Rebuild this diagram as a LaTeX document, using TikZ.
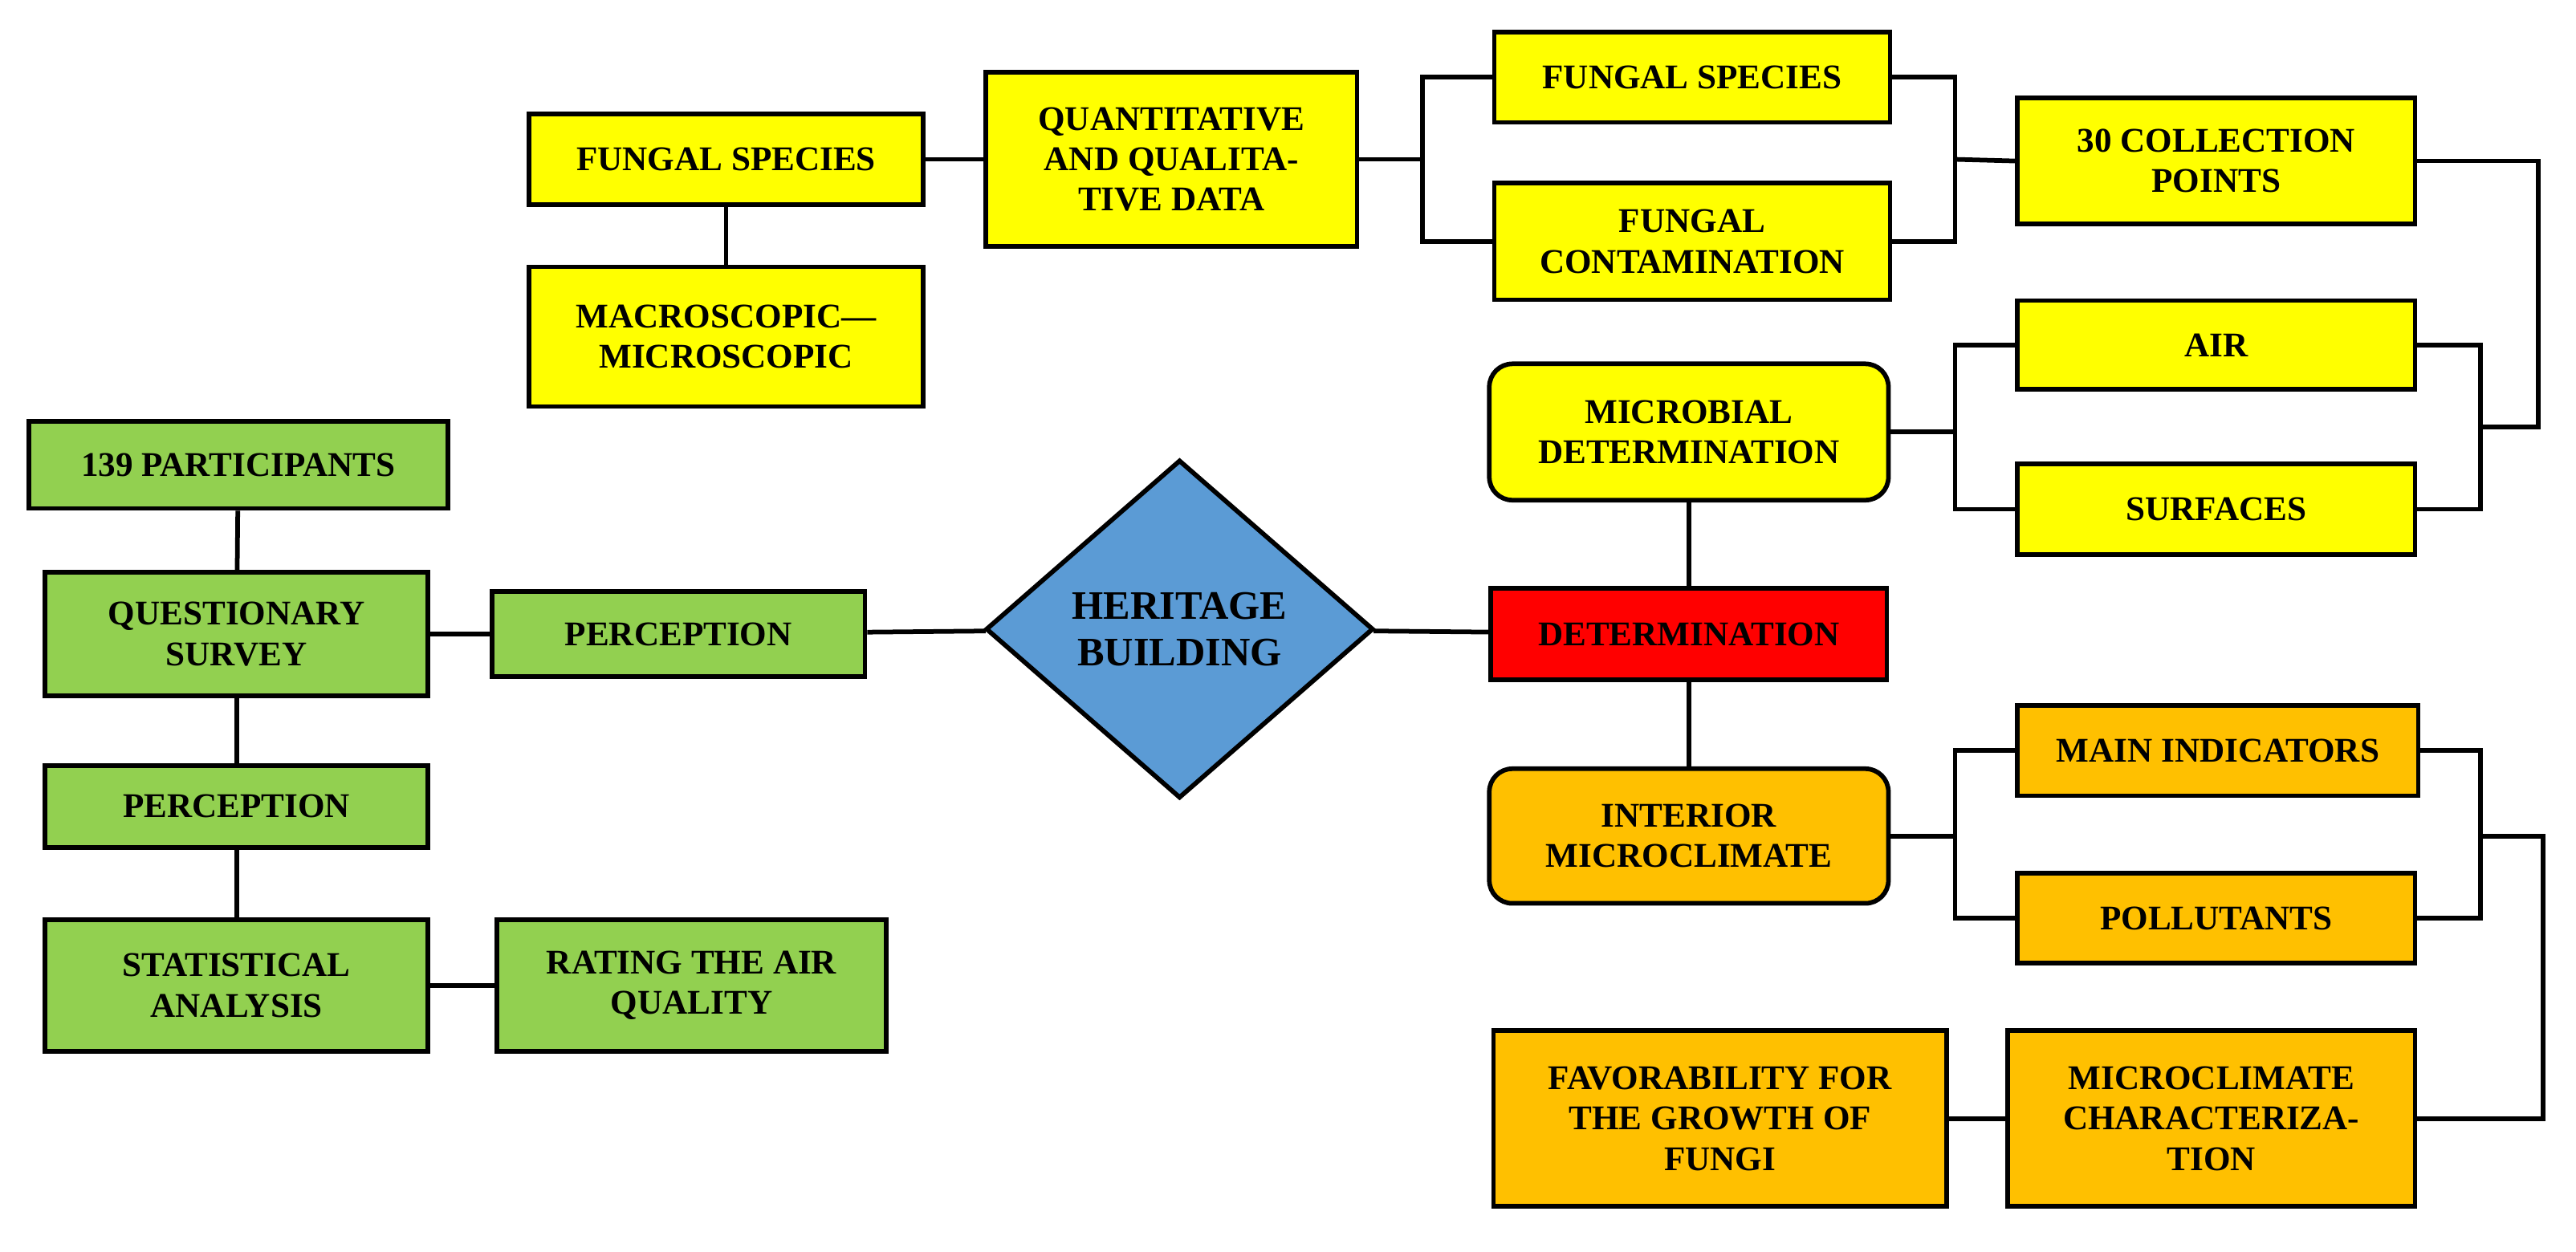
\documentclass[tikz,border=0pt]{standalone}
\usepackage{fontspec}
\setmainfont{Liberation Serif}
\usetikzlibrary{shapes.geometric}
\definecolor{boxyellow}{HTML}{FFFF00}
\definecolor{boxgreen}{HTML}{92D050}
\definecolor{boxorange}{HTML}{FFC000}
\definecolor{boxred}{HTML}{FF0000}
\definecolor{boxblue}{HTML}{5B9BD5}
\begin{document}
\begin{tikzpicture}[x=0.02cm,y=-0.02cm,
    box/.style={draw, line width=1.6pt, font=\fontsize{12}{14}\selectfont\bfseries,
      align=center, inner sep=1pt},
    yel/.style={box, fill=boxyellow},
    grn/.style={box, fill=boxgreen},
    org/.style={box, fill=boxorange},
    link/.style={line width=1.6pt}]
    \useasboundingbox (0,0) rectangle (1568,762);

    % upper branch
    \path (442,97) node [yel,minimum width=4.8cm,minimum height=1.1cm] (fsl) {FUNGAL SPECIES};
    \path (442,205) node [yel,minimum width=4.8cm,minimum height=1.7cm] (macro) {MACROSCOPIC---\\MICROSCOPIC};
    \path (713,97) node [yel,minimum width=4.52cm,minimum height=2.12cm] (quant) {QUANTITATIVE\\AND QUALITA-\\TIVE DATA};
    \path (1030,47) node [yel,minimum width=4.82cm,minimum height=1.1cm] (fsr) {FUNGAL SPECIES};
    \path (1030,147) node [yel,minimum width=4.82cm,minimum height=1.42cm] (fcont) {FUNGAL\\CONTAMINATION};
    \path (1349,98) node [yel,minimum width=4.84cm,minimum height=1.54cm] (coll) {30 COLLECTION\\POINTS};
    \path (1028,263) node [yel,rounded corners=8pt,minimum width=4.86cm,minimum height=1.66cm] (microb) {MICROBIAL\\DETERMINATION};
    \path (1349,210) node [yel,minimum width=4.84cm,minimum height=1.08cm] (air) {AIR};
    \path (1349,310) node [yel,minimum width=4.84cm,minimum height=1.1cm] (surf) {SURFACES};

    % centre
    \path (718,383) node [draw,line width=1.6pt,diamond,fill=boxblue,inner sep=0pt,
      minimum width=4.72cm,minimum height=4.12cm,align=center,
      font=\fontsize{14}{16}\selectfont\bfseries] (herit) {HERITAGE\\BUILDING};
    \path (1028,386) node [box,fill=boxred,minimum width=4.82cm,minimum height=1.12cm] (det) {DETERMINATION};

    % lower branch
    \path (1028,509) node [org,rounded corners=8pt,minimum width=4.86cm,minimum height=1.64cm] (inter) {INTERIOR\\MICROCLIMATE};
    \path (1350,457) node [org,minimum width=4.88cm,minimum height=1.1cm] (mainind) {MAIN INDICATORS};
    \path (1349,559) node [org,minimum width=4.84cm,minimum height=1.1cm] (poll) {POLLUTANTS};
    \path (1346,681) node [org,minimum width=4.96cm,minimum height=2.14cm] (mchar) {MICROCLIMATE\\CHARACTERIZA-\\TION};
    \path (1047,681) node [org,minimum width=5.52cm,minimum height=2.14cm] (fav) {FAVORABILITY FOR\\THE GROWTH OF\\FUNGI};

    % left branch
    \path (145,283) node [grn,minimum width=5.1cm,minimum height=1.06cm] (part) {139 PARTICIPANTS};
    \path (144,386) node [grn,minimum width=4.66cm,minimum height=1.5cm] (quest) {QUESTIONARY\\SURVEY};
    \path (413,386) node [grn,minimum width=4.54cm,minimum height=1.04cm] (percm) {PERCEPTION};
    \path (144,491) node [grn,minimum width=4.66cm,minimum height=1.0cm] (percl) {PERCEPTION};
    \path (144,600) node [grn,minimum width=4.66cm,minimum height=1.6cm] (stat) {STATISTICAL\\ANALYSIS};
    \path (421,600) node [grn,minimum width=4.74cm,minimum height=1.6cm] (rate) {RATING THE AIR\\QUALITY};

    % bracket points
    \coordinate (b1) at (866,97);
    \coordinate (b2) at (1190,97);
    \coordinate (b3) at (1510,260);
    \coordinate (b4) at (1545,260);
    \coordinate (b5) at (1190,263);
    \coordinate (b6) at (1190,509);
    \coordinate (b7) at (1510,509);
    \coordinate (b8) at (1548,509);

    \draw [link] (fsl) -- (quant);
    \draw [link] (fsl) -- (macro);
    \draw [link] (quant) -- (b1);
    \draw [link] (fsr.west) -| (b1) |- (fcont.west);
    \draw [link] (fsr.east) -| (b2) |- (fcont.east);
    \draw [link] (b2) -- (coll.west);
    \draw [link] (coll.east) -| (b4) -- (b3);
    \draw [link] (air.east) -| (b3) |- (surf.east);
    \draw [link] (air.west) -| (b5) |- (surf.west);
    \draw [link] (microb) -- (b5);
    \draw [link] (microb) -- (det);
    \draw [link] (det) -- (inter);
    \draw [link] (herit) -- (det);
    \draw [link] (herit) -- (percm);
    \draw [link] (inter) -- (b6);
    \draw [link] (mainind.west) -| (b6) |- (poll.west);
    \draw [link] (mainind.east) -| (b7) |- (poll.east);
    \draw [link] (b7) -- (b8) |- (mchar.east);
    \draw [link] (mchar) -- (fav);
    \draw [link] (percm) -- (quest);
    \draw [link] (part) -- (quest);
    \draw [link] (quest) -- (percl);
    \draw [link] (percl) -- (stat);
    \draw [link] (stat) -- (rate);
\end{tikzpicture}
\end{document}
